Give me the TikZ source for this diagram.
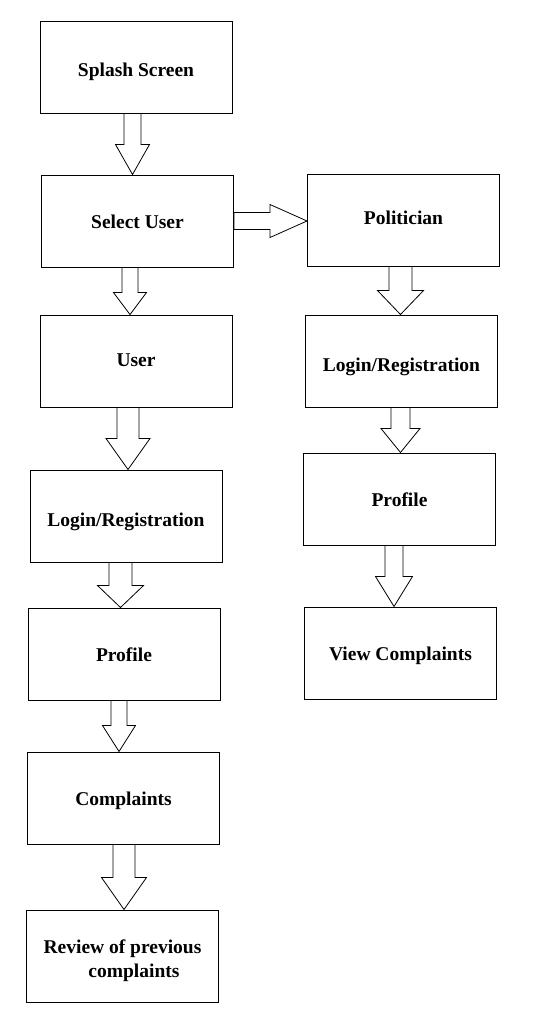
\documentclass[tikz,border=0pt]{standalone}
\usepackage{fontspec}
\setmainfont{Liberation Serif}
\usetikzlibrary{calc}

\tikzset{
  screen/.style={draw, line width=1pt, minimum width=192pt, minimum height=92pt,
    inner sep=0pt, align=center, text height=18pt, text depth=3pt,
    font=\fontsize{19.5}{24}\selectfont\bfseries},
  flow/.style={draw, line width=0.8pt, fill=white}
}

\newcommand{\downblock}[6]{%
  \draw[flow] let \p1=([xshift=#3]#1.south), \p2=(#2.north) in
    (\x1-#4,\y1) -- (\x1-#4,\y2+#6) -- (\x1-#5,\y2+#6) -- (\x1,\y2)
    -- (\x1+#5,\y2+#6) -- (\x1+#4,\y2+#6) -- (\x1+#4,\y1) -- cycle;
}
\newcommand{\rightblock}[5]{%
  \draw[flow] let \p1=(#1.east), \p2=(#2.west) in
    (\x1,\y1+#3) -- (\x2-#5,\y1+#3) -- (\x2-#5,\y1+#4) -- (\x2,\y1)
    -- (\x2-#5,\y1-#4) -- (\x2-#5,\y1-#3) -- (\x1,\y1-#3) -- cycle;
}

\begin{document}
\begin{tikzpicture}[x=1pt,y=-1pt]
  \useasboundingbox (0,0) rectangle (546,1018);

  \node[screen, text height=22pt] (splash) at (136,67) {Splash Screen};
  \node[screen, text height=17pt] (select) at (137.5,221) {Select User};
  \node[screen, text height=14pt] (user) at (136,361) {User};
  \node[screen, text height=24pt] (login) at (126,516) {Login/Registration};
  \node[screen] (profile) at (124,654) {Profile};
  \node[screen] (complaints) at (123.5,798) {Complaints};
  \node[screen, text height=46pt] (review) at (122.5,956) {Review of previous\\\hspace*{23pt}complaints};

  \node[screen, text height=12pt] (politician) at (403.5,220) {Politician};
  \node[screen, text height=24pt] (plogin) at (401.5,361) {Login/Registration};
  \node[screen] (pprofile) at (399.5,499) {Profile};
  \node[screen] (pview) at (400.5,653) {View Complaints};

  \downblock{splash}{select}{-3.5pt}{8.5pt}{17pt}{30pt}
  \downblock{select}{user}{-7.5pt}{8pt}{16.5pt}{22pt}
  \downblock{user}{login}{-8pt}{11pt}{22pt}{31pt}
  \downblock{login}{profile}{-5.5pt}{11.5pt}{23pt}{22pt}
  \downblock{profile}{complaints}{-5pt}{8pt}{16.5pt}{26pt}
  \downblock{complaints}{review}{0.5pt}{11pt}{22.5pt}{32pt}

  \rightblock{select}{politician}{8.5pt}{16.5pt}{37pt}
  \downblock{politician}{plogin}{-3pt}{11.5pt}{23pt}{24pt}
  \downblock{plogin}{pprofile}{-1pt}{9.5pt}{19.5pt}{24pt}
  \downblock{pprofile}{pview}{-5.5pt}{9pt}{18.5pt}{30pt}
\end{tikzpicture}
\end{document}
